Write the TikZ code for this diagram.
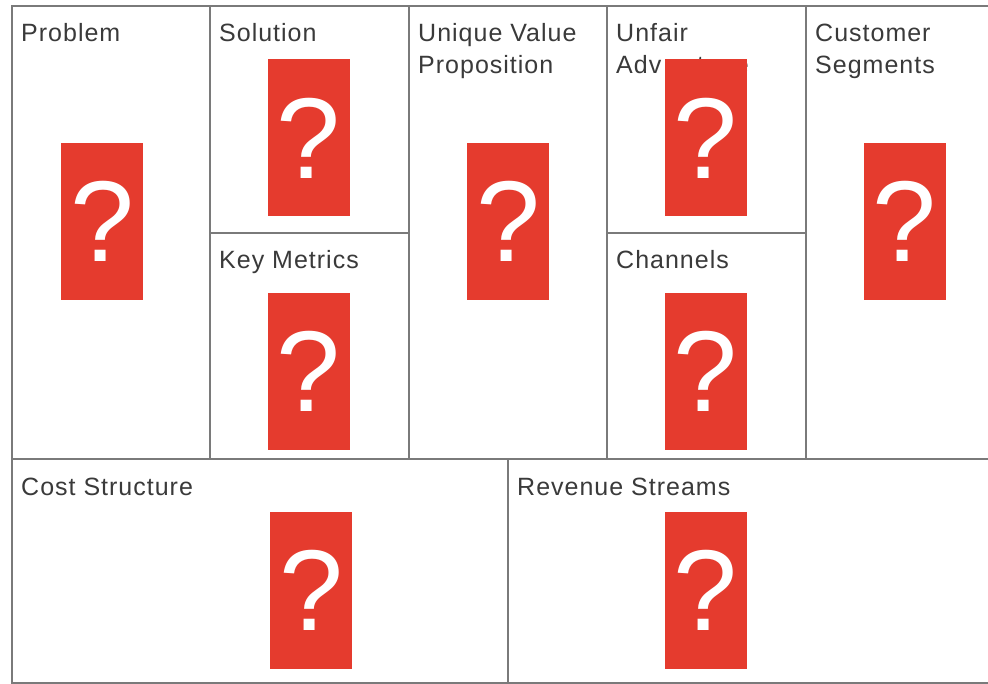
\documentclass[tikz,border=0pt]{standalone}
\usepackage{fontspec}
\setmainfont{Liberation Sans}
\newfontfamily\headingfont[LetterSpace=4]{Liberation Sans}
\usetikzlibrary{calc}
\definecolor{gridline}{RGB}{122,122,122}
\definecolor{labeltext}{RGB}{58,58,58}
\definecolor{cardred}{RGB}{229,59,46}
\tikzset{
  cell/.style={draw=gridline, line width=2.2pt, rectangle, inner sep=0pt, outer sep=0pt},
  lbl/.style={anchor=base west, inner sep=0pt, text=labeltext,
              font=\headingfont\fontsize{25}{31.5}\selectfont, align=left},
  card/.style={fill=cardred, rectangle, inner sep=0pt,
               minimum width=82pt, minimum height=157pt, text=white,
               font=\fontsize{115}{115}\selectfont},
}
\begin{document}
\begin{tikzpicture}[x=1pt, y=-1pt]
  \useasboundingbox (0,0) rectangle (988,684);
  \fill[white] (0,0) rectangle (988,684);

  % canvas cells
  \node[cell, minimum width=198pt, minimum height=453pt] (problem)    at (111,232.5) {};
  \node[cell, minimum width=199pt, minimum height=227pt] (solution)   at (309.5,119.5) {};
  \node[cell, minimum width=199pt, minimum height=226pt] (keymetrics) at (309.5,346) {};
  \node[cell, minimum width=198pt, minimum height=453pt] (uvp)        at (508,232.5) {};
  \node[cell, minimum width=199pt, minimum height=227pt] (unfair)     at (706.5,119.5) {};
  \node[cell, minimum width=199pt, minimum height=226pt] (channels)   at (706.5,346) {};
  \node[cell, minimum width=186pt, minimum height=453pt] (customer)   at (899,232.5) {};
  \node[cell, minimum width=496pt, minimum height=224pt] (cost)       at (260,571) {};
  \node[cell, minimum width=484pt, minimum height=224pt] (revenue)    at (750,571) {};

  % cell headings (two-line headings are placed by their last baseline)
  \node[lbl] (problem-t)    at ($(problem.north west)+(9,36)$)      {Problem};
  \node[lbl] (solution-t)   at ($(solution.north west)+(9,36)$)     {Solution};
  \node[lbl] (keymetrics-t) at ($(keymetrics.north west)+(9,36)$)   {Key Metrics};
  \node[lbl] (uvp-t)        at ($(uvp.north west)+(9,67.5)$)        {Unique Value\\Proposition};
  \node[lbl] (unfair-t)     at ($(unfair.north west)+(9,67.5)$)     {Unfair\\Adv\kern6pt antage};
  \node[lbl] (channels-t)   at ($(channels.north west)+(9,36)$)     {Channels};
  \node[lbl] (customer-t)   at ($(customer.north west)+(9,67.5)$)   {Customer\\Segments};
  \node[lbl] (cost-t)       at ($(cost.north west)+(9,36)$)         {Cost Structure};
  \node[lbl] (revenue-t)    at ($(revenue.north west)+(9,36)$)      {Revenue Streams};

  % question cards
  \node[card] (problem-q)    at (102,221.5)   {?};
  \node[card] (solution-q)   at (308.5,138)   {?};
  \node[card] (keymetrics-q) at (308.5,371.5) {?};
  \node[card] (uvp-q)        at (508,221.5)   {?};
  \node[card] (unfair-q)     at (705.5,138)   {?};
  \node[card] (channels-q)   at (705.5,371.5) {?};
  \node[card] (customer-q)   at (904.5,221.5) {?};
  \node[card] (cost-q)       at (311,590)     {?};
  \node[card] (revenue-q)    at (705.5,590)   {?};
\end{tikzpicture}
\end{document}
